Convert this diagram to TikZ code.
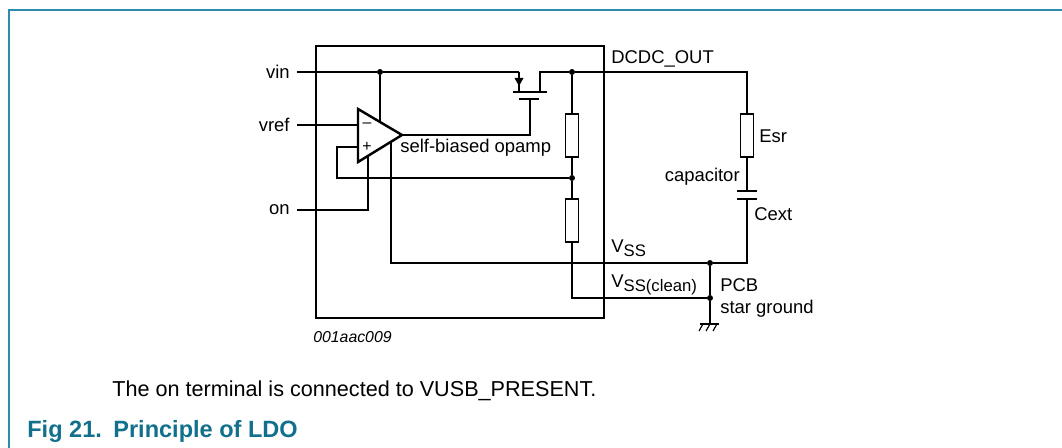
\documentclass[tikz,border=0pt]{standalone}
\usepackage{fontspec}
\setmainfont{Liberation Sans}
\usetikzlibrary{arrows.meta}

\definecolor{nxpteal}{RGB}{18,112,140}
\definecolor{nxpframe}{RGB}{45,140,170}

\tikzset{
    wire/.style={line width=0.65pt},
    thickline/.style={line width=1.6pt},
    resistor/.style={draw, rectangle, line width=0.65pt, fill=white, minimum width=0.25cm, minimum height=0.86cm, inner sep=0pt},
    junction/.style={circle, fill, inner sep=0pt, minimum size=3.4pt},
    lbl/.style={font=\fontsize{10.5}{12.5}\selectfont, inner sep=0pt},
    pinlbl/.style={lbl, inner xsep=4pt, anchor=east},
}

\begin{document}
\begin{tikzpicture}[x=0.02cm, y=-0.02cm]
    \useasboundingbox (0,0) rectangle (1062,448);

    %% frame
    \draw[nxpframe, line width=1.1pt] (9,448) -- (9,10) -- (1062,10);

    %% chip outline
    \draw[thickline] (316,46) rectangle (604,318);

    %% components
    \node[resistor] (r1) at (572,135.5) {};
    \node[resistor] (r2) at (572,220.5) {};
    \node[resistor] (esr) at (747,135.5) {};
    \coordinate (cap1) at (747,191);
    \coordinate (cap2) at (747,199);
    \draw[thickline] (737,191) -- (757,191) (737,199) -- (757,199);

    % opamp
    \coordinate (opa) at (358,109);
    \coordinate (opb) at (358,162);
    \coordinate (opo) at (402,135);
    \draw[line width=1.4pt, line join=miter] (opa) -- (opo) -- (opb) -- cycle;
    \node[lbl, font=\fontsize{9}{10}\selectfont] (minus) at (367,125) {–};
    \node[lbl, font=\fontsize{9}{10}\selectfont] (plus) at (367,147) {+};

    % pass transistor
    \coordinate (src) at (519,72);
    \coordinate (srcch) at (519,92);
    \coordinate (drn) at (540,92);
    \coordinate (gate) at (530,99);
    \draw[thickline] (513,92) -- (547,92);
    \draw[line width=1.3pt] (519,99) -- (539,99);
    \draw[wire] (src) -- (srcch);
    \fill (514.5,78) -- (523.5,78) -- (519,86) -- cycle;

    %% junctions
    \node[junction] (jvin) at (380,72) {};
    \node[junction] (jout) at (572,72) {};
    \node[junction] (jfb) at (572,178) {};
    \node[junction] (jss) at (710,263) {};
    \node[junction] (jclean) at (710,298) {};
    \coordinate (gnd) at (710,324);

    %% pins
    \node[pinlbl] (vin) at (297,72) {vin};
    \node[pinlbl] (vref) at (297,125) {vref};
    \node[pinlbl] (on) at (297,210) {on};

    %% wires
    \draw[wire] (vin.east) -- (jvin) -- (src);
    \draw[wire] (jvin) -- (380,122);
    \draw[wire] (vref.east) -- (358,125);
    \draw[wire] (358,147) -| (337,178) -- (jfb);
    \draw[wire] (on.east) -| (368,156);
    \draw[wire] (opo) -| (gate);
    \draw[wire] (drn) |- (jout) -- (747,72) -- (esr.north);
    \draw[wire] (jout) -- (r1.north);
    \draw[wire] (r1.south) -- (jfb) -- (r2.north);
    \draw[wire] (r2.south) |- (jclean);
    \draw[wire] (391,142) |- (jss) -| (cap2);
    \draw[wire] (esr.south) -- (cap1);
    \draw[wire] (jss) -- (jclean) -- (gnd);

    % ground
    \draw[wire] (700,324) -- (719,324);
    \foreach \gx in {703,710,717}
        \draw[wire] (\gx,324) -- ++(-4,7);

    %% labels
    \node[lbl, anchor=west] (opamp) at (400,148) {self-biased opamp};
    \node[lbl, anchor=west] (dcdc) at (611,59) {DCDC\_OUT};
    \node[lbl, anchor=west] (esrl) at (759,136) {Esr};
    \node[lbl, anchor=east] (capl) at (740,177) {capacitor};
    \node[lbl, anchor=west] (cext) at (754,214) {Cext};
    \node[lbl, anchor=base west] (vss) at (611,253) {V\raisebox{-0.4ex}{\fontsize{9.5}{10}\selectfont SS}};
    \node[lbl, anchor=base west] (vssc) at (611,288) {V\raisebox{-0.4ex}{\fontsize{9.5}{10}\selectfont SS(clean)}};
    \node[lbl, anchor=west, align=left] (pcb) at (720,297.5) {PCB\\star ground};
    \node[lbl, anchor=west, font=\fontsize{9}{10}\selectfont\itshape] (figid) at (313,337) {001aac009};

    %% note and caption
    \node[lbl, anchor=base west, font=\fontsize{12.3}{14}\selectfont] (note) at (112,397) {The on terminal is connected to VUSB\_PRESENT.};
    \node[lbl, anchor=base west, font=\fontsize{13.4}{15}\selectfont\bfseries, text=nxpteal] (figno) at (27,438) {Fig 21.};
    \node[lbl, anchor=base west, font=\fontsize{13.4}{15}\selectfont\bfseries, text=nxpteal] (figtitle) at (113,438) {Principle of LDO};
\end{tikzpicture}
\end{document}
